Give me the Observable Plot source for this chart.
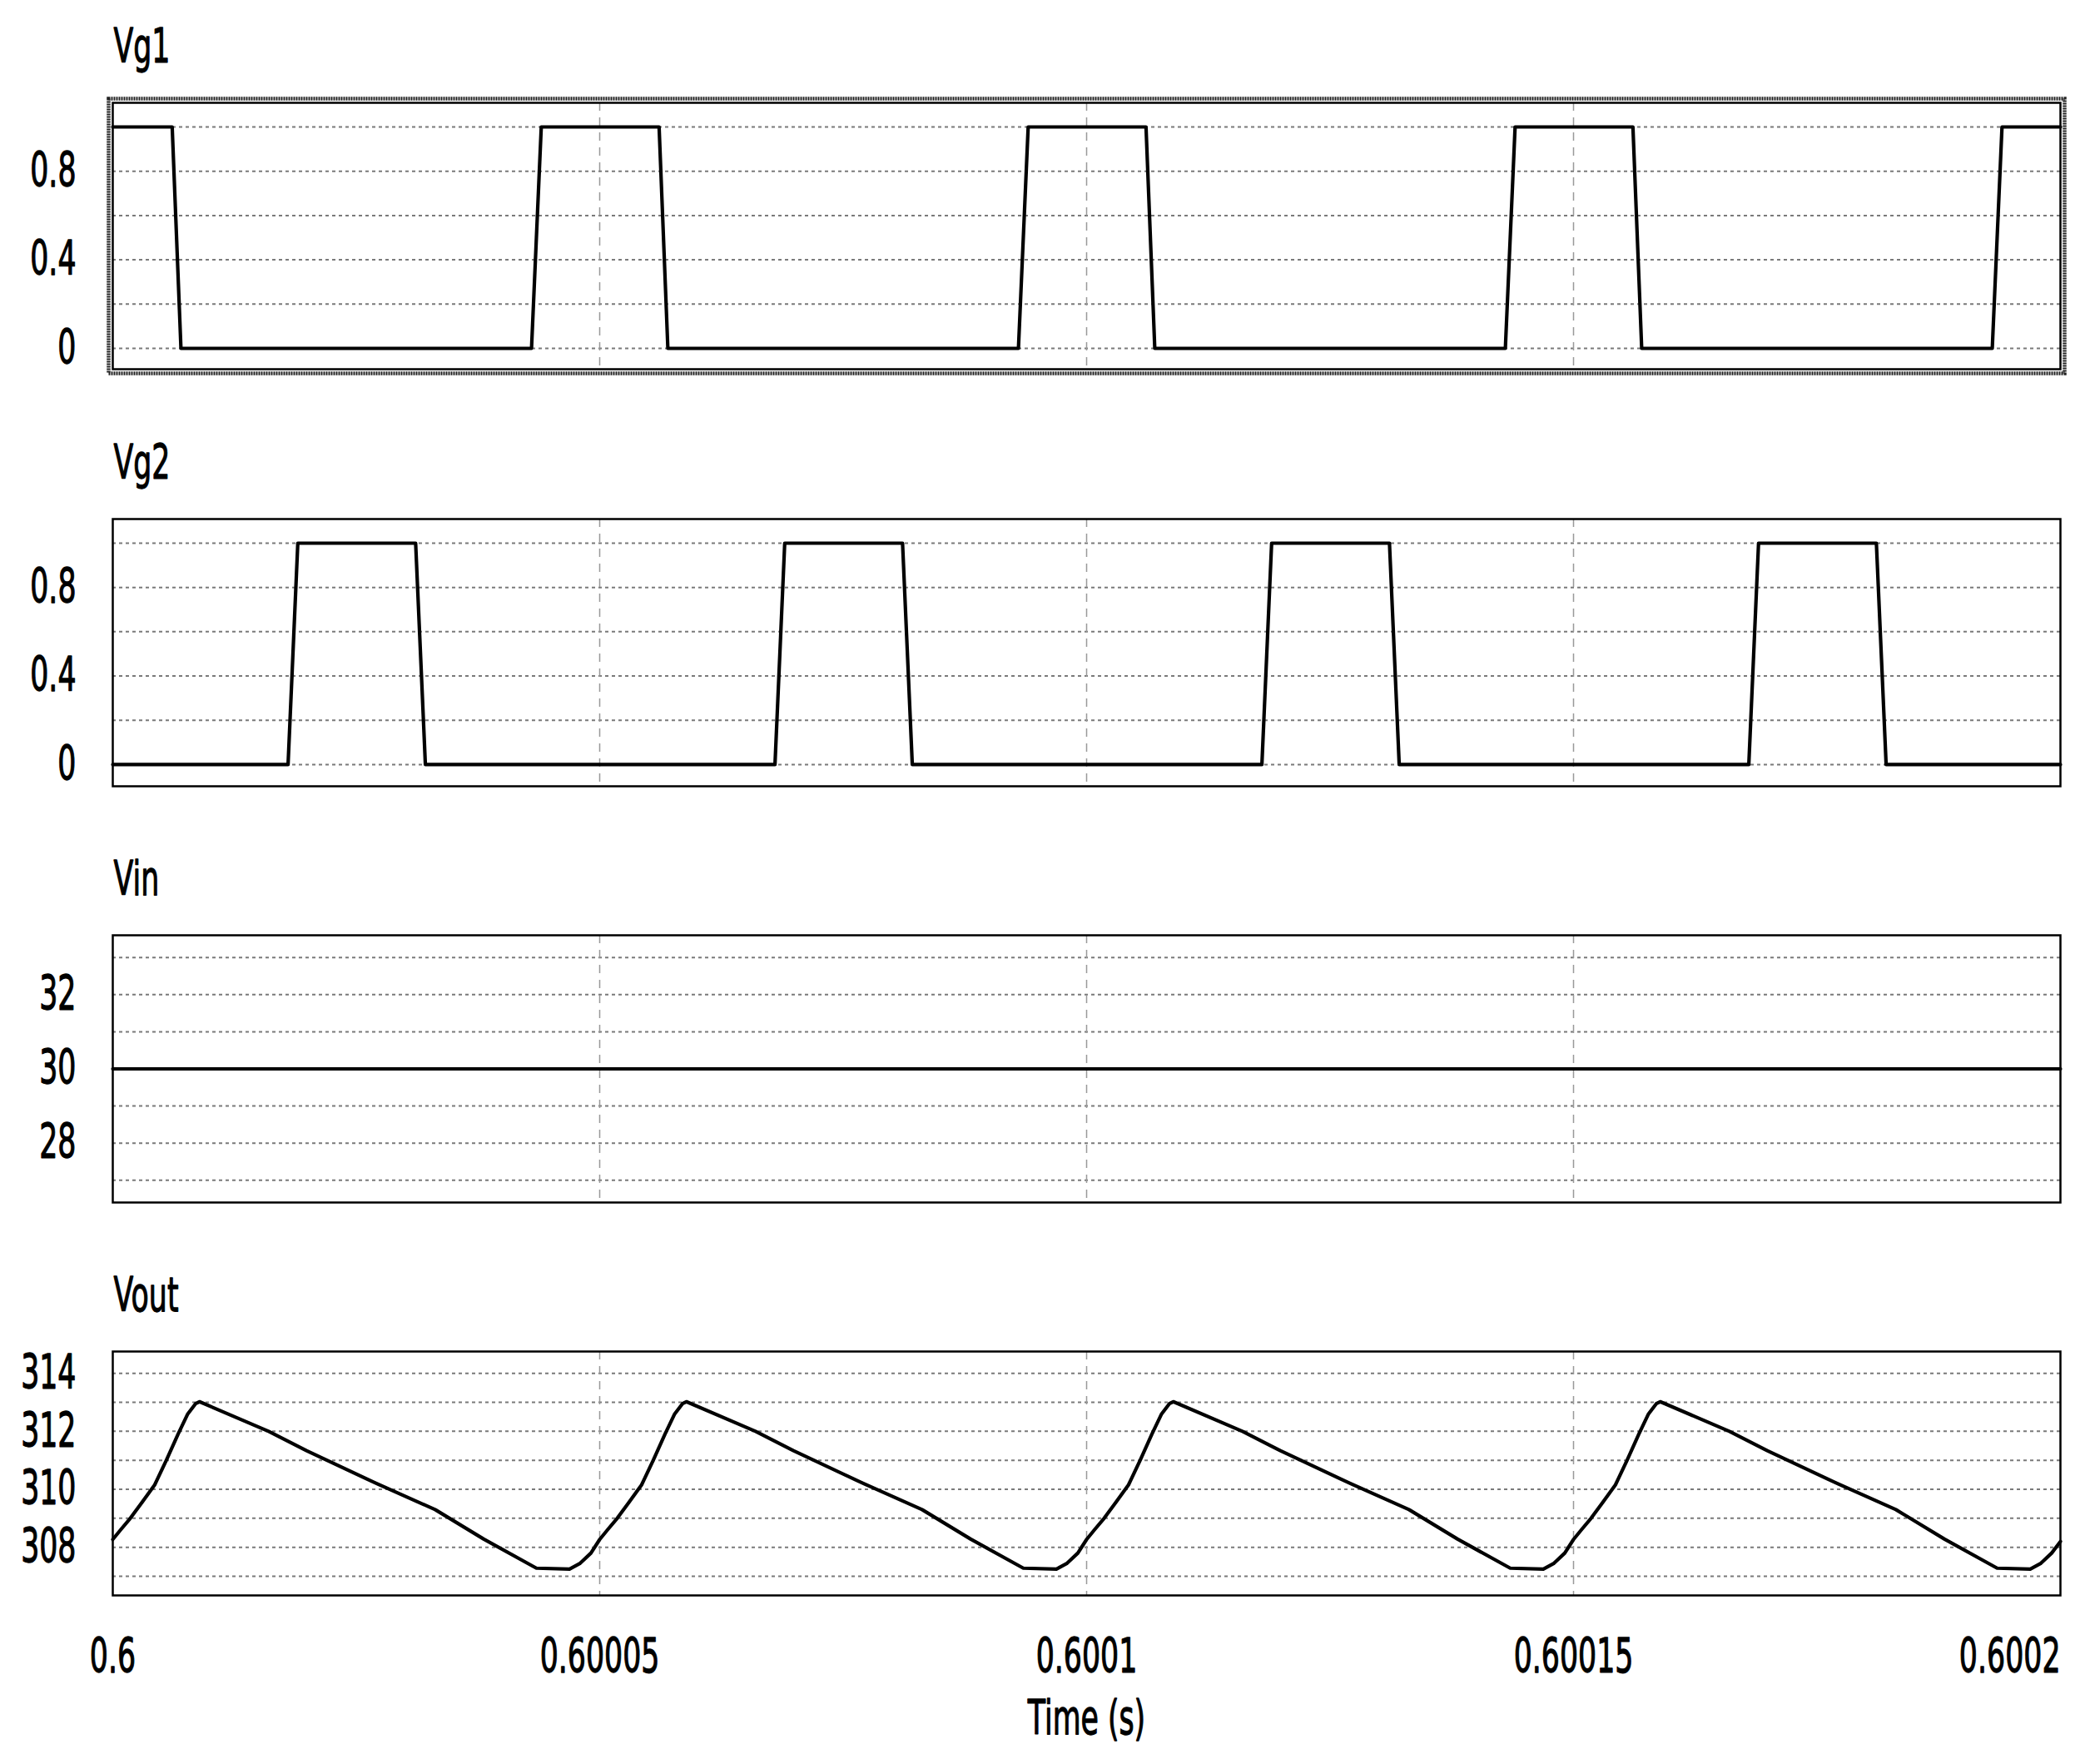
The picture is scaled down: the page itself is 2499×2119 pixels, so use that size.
<!DOCTYPE html>
<html>
<head>
<meta charset="utf-8">
<script src="https://cdn.jsdelivr.net/npm/d3@7"></script>
<script src="https://cdn.jsdelivr.net/npm/@observablehq/plot@0.6"></script>
<style>
  html, body { margin: 0; padding: 0; background: #fff; }
  #chart { width: 2499px; }
  #chart svg { display: block; }
</style>
</head>
<body>
<div id="chart"></div>
<script>
// ---------- data (time offsets in microseconds after t = 0.6 s) ----------
const tStart = 0.6;
const xTicks = [0.6, 0.60005, 0.6001, 0.60015, 0.6002];
const xTickLabels = ["0.6", "0.60005", "0.6001", "0.60015", "0.6002"];
const xGrid = [0.60005, 0.6001, 0.60015];

const vgGrid = [0, 0.2, 0.4, 0.6, 0.8, 1.0];
const vgTicks = [0, 0.4, 0.8];
const vgTickLabels = ["0", "0.4", "0.8"];

const vg1Us = [0, 6.1, 7.0, 43.0, 44.0, 56.1, 57.0, 93.0, 94.0, 106.1, 107.0, 143.0, 144.0, 156.1, 157.0, 193.0, 194.0, 200];
const vg1V  = [1, 1,   0,   0,    1,    1,    0,    0,    1,    1,     0,     0,     1,     1,     0,     0,     1,     1];

const vg2Us = [0, 18.0, 19.0, 31.1, 32.1, 68.0, 69.0, 81.1, 82.1, 118.0, 119.0, 131.1, 132.1, 168.0, 169.0, 181.1, 182.1, 200];
const vg2V  = [0, 0,    1,    1,    0,    0,    1,    1,    0,    0,     1,     1,     0,     0,     1,     1,     0,     0];

const vinGrid = [27, 28, 29, 30, 31, 32, 33];
const vinTicks = [28, 30, 32];
const vinTickLabels = ["28", "30", "32"];
const vinUs = [0, 200];
const vinV  = [30, 30];

const voutGrid = [307, 308, 309, 310, 311, 312, 313, 314];
const voutTicks = [308, 310, 312, 314];
const voutTickLabels = ["308", "310", "312", "314"];
const voutUs = [
  0, 0.8, 1.8, 3.0, 4.3, 5.5, 6.7, 7.7, 8.5, 8.9, 16.0, 19.9, 27.2, 33.1, 38.1, 43.5, 46.9, 48.0, 49.1,
  50, 50.8, 51.8, 53.0, 54.3, 55.5, 56.7, 57.7, 58.5, 58.9, 66.0, 69.9, 77.2, 83.1, 88.1, 93.5, 96.9, 98.0, 99.1,
  100, 100.8, 101.8, 103.0, 104.3, 105.5, 106.7, 107.7, 108.5, 108.9, 116.0, 119.9, 127.2, 133.1, 138.1, 143.5, 146.9, 148.0, 149.1,
  150, 150.8, 151.8, 153.0, 154.3, 155.5, 156.7, 157.7, 158.5, 158.9, 166.0, 169.9, 177.2, 183.1, 188.1, 193.5, 196.9, 198.0, 199.1,
  200
];
const voutV = [
  308.27, 308.6, 309.0, 309.55, 310.15, 311.0, 311.9, 312.6, 312.95, 313.02, 312.0, 311.33, 310.18, 309.3, 308.28, 307.28, 307.25, 307.45, 307.8,
  308.27, 308.6, 309.0, 309.55, 310.15, 311.0, 311.9, 312.6, 312.95, 313.02, 312.0, 311.33, 310.18, 309.3, 308.28, 307.28, 307.25, 307.45, 307.8,
  308.27, 308.6, 309.0, 309.55, 310.15, 311.0, 311.9, 312.6, 312.95, 313.02, 312.0, 311.33, 310.18, 309.3, 308.28, 307.28, 307.25, 307.45, 307.8,
  308.27, 308.6, 309.0, 309.55, 310.15, 311.0, 311.9, 312.6, 312.95, 313.02, 312.0, 311.33, 310.18, 309.3, 308.28, 307.28, 307.25, 307.45, 307.8,
  308.2
];

// ---------- styling ----------
const W = 2499;
const FONT = "'DejaVu Sans', Verdana, sans-serif";
const FS = 57;
const SX = 0.61;
const txt = {fontFamily: FONT, fontSize: FS, fill: "black", stroke: "black", strokeWidth: 1.3};

function condense(svg) {
  svg.querySelectorAll("text").forEach(t => {
    const tr = t.getAttribute("transform");
    if (tr) t.setAttribute("transform", tr + ` scale(${SX},1)`);
    else {
      const x = parseFloat(t.getAttribute("x") || 0) || 0;
      const y = parseFloat(t.getAttribute("y") || 0) || 0;
      t.removeAttribute("x"); t.removeAttribute("y");
      t.setAttribute("transform", `translate(${x},${y}) scale(${SX},1)`);
    }
  });
}

function panel(o) {
  const data = o.us.map((u, i) => ({t: tStart + u * 1e-6, v: o.v[i]}));
  const marks = [
    Plot.ruleY(o.grid, {y: d => d, stroke: "#7a7a7a", strokeWidth: 2, strokeDasharray: "4,4"}),
    Plot.ruleX(xGrid, {x: d => d, stroke: "#999", strokeWidth: 1.5, strokeDasharray: "10,8"}),
    Plot.line(data, {x: "t", y: "v", stroke: "black", strokeWidth: 4.2, strokeLinejoin: "round"}),
    Plot.frame({stroke: "black", strokeWidth: 2.5}),
    Plot.text([o.title], {text: d => d, frameAnchor: "top-left", dx: 1, dy: -49, lineAnchor: "bottom", textAnchor: "start", ...txt}),
    Plot.text(o.ticks, {y: d => d, text: (d, i) => o.labels[i], frameAnchor: "left", dx: -44, textAnchor: "end", lineAnchor: "middle", ...txt})
  ];
  if (o.outer) {
    marks.push(Plot.frame({inset: -5, stroke: "#222", strokeWidth: 4.5, strokeDasharray: "2,1"}));
  }
  if (o.xAxis) {
    marks.push(
      Plot.text(xTicks.slice(0, 4), {x: d => d, text: (d, i) => xTickLabels[i], frameAnchor: "bottom", dy: 92, lineAnchor: "bottom", textAnchor: "middle", ...txt}),
      Plot.text(xTicks.slice(4), {x: d => d, text: (d, i) => xTickLabels[4 + i], frameAnchor: "bottom", dy: 92, lineAnchor: "bottom", textAnchor: "end", ...txt}),
      Plot.text(["Time (s)"], {text: d => d, frameAnchor: "bottom", dy: 166, lineAnchor: "bottom", textAnchor: "middle", ...txt})
    );
  }
  const svg = Plot.plot({
    width: W,
    height: o.height,
    marginLeft: 135,
    marginRight: 24,
    marginTop: 123,
    marginBottom: o.marginBottom,
    inset: 0,
    x: {type: "linear", domain: [0.6, 0.6002], axis: null},
    y: {type: "linear", domain: o.domain, axis: null},
    style: {background: "white", overflow: "visible", fontFamily: FONT},
    marks
  });
  condense(svg);
  document.getElementById("chart").appendChild(svg);
}

panel({title: "Vg1", us: vg1Us, v: vg1V, domain: [-0.094, 1.109], grid: vgGrid, ticks: vgTicks, labels: vgTickLabels, height: 500, marginBottom: 57, outer: true});
panel({title: "Vg2", us: vg2Us, v: vg2V, domain: [-0.098, 1.109], grid: vgGrid, ticks: vgTicks, labels: vgTickLabels, height: 500, marginBottom: 56});
panel({title: "Vin", us: vinUs, v: vinV, domain: [26.4, 33.6], grid: vinGrid, ticks: vinTicks, labels: vinTickLabels, height: 500, marginBottom: 56});
panel({title: "Vout", us: voutUs, v: voutV, domain: [306.34, 314.75], grid: voutGrid, ticks: voutTicks, labels: voutTickLabels, height: 619, marginBottom: 203, xAxis: true});
</script>
</body>
</html>
